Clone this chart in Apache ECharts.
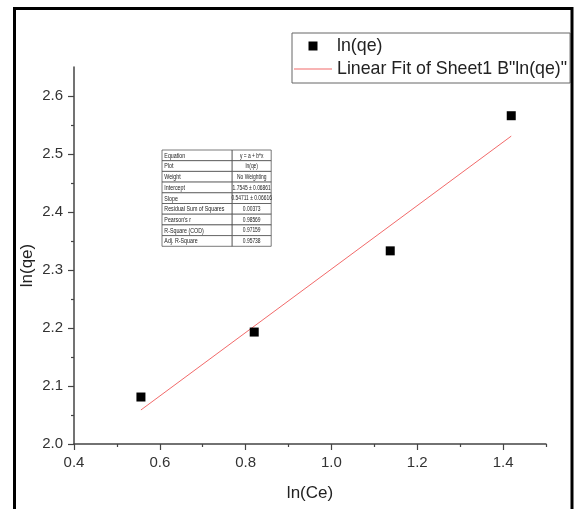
<!DOCTYPE html>
<html>
<head>
<meta charset="utf-8">
<script src="https://cdn.jsdelivr.net/npm/echarts@6/dist/echarts.min.js"></script>
<style>
  html, body { margin: 0; padding: 0; background: #fff; }
  #chart { width: 575px; height: 509px; }
</style>
</head>
<body>
<div id="chart"></div>
<script>
// Measured points: ln(Ce) vs ln(qe)
const lnCe = [0.556, 0.820, 1.137, 1.419];
const lnQe = [2.081, 2.193, 2.333, 2.566];

// Linear fit y = a + b*x
const fitIntercept = 1.7545;
const fitSlope = 0.54711;

// Axis ticks
const xMajorTicks = [0.4, 0.6, 0.8, 1.0, 1.2, 1.4];
const xMinorTicks = [0.5, 0.7, 0.9, 1.1, 1.3, 1.5];
const yMajorTicks = [2.0, 2.1, 2.2, 2.3, 2.4, 2.5, 2.6];
const yMinorTicks = [2.05, 2.15, 2.25, 2.35, 2.45, 2.55];

// Fit statistics table
const statNames = ['Equation', 'Plot', 'Weight', 'Intercept', 'Slope',
  'Residual Sum of Squares', "Pearson's r", 'R-Square (COD)', 'Adj. R-Square'];
const statValues = ['y = a + b*x', 'ln(qe)', 'No Weighting', '1.7545 \u00b1 0.06861',
  '0.54711 \u00b1 0.06616', '0.00373', '0.98569', '0.97159', '0.95738'];

const FONT = 'Liberation Sans, Arial, sans-serif';
const AXIS_COLOR = '#444';
const FIT_COLOR = '#f26a6a';

// Legend icons inside a 38x9 box: a centred square, and a thin horizontal stroke
const ICON_SQUARE = 'path://M0,0 M38,9 M14.5,0 L23.5,0 L23.5,9 L14.5,9 Z';
const ICON_LINE = 'path://M0,0 M38,9 M0,4 L38,4 L38,5 L0,5 Z';

const fitStart = Math.min(...lnCe);
const fitEnd = Math.max(...lnCe);
const fitLine = [
  [fitStart, fitIntercept + fitSlope * fitStart],
  [fitEnd, fitIntercept + fitSlope * fitEnd]
];

// Statistics table: laid out at natural width, then squeezed horizontally
const tbl = { left: 162, top: 150, col1: 90, col2: 50, row: 10.7, font: 6.8, valueFont: 6.3, squeeze: 0.78 };
const tableChildren = [];
statNames.forEach((name, i) => {
  const y = i * tbl.row;
  tableChildren.push({
    type: 'rect', shape: { x: 0, y: y, width: tbl.col1, height: tbl.row },
    style: { fill: '#fff', stroke: '#444', lineWidth: 0.8 }
  });
  tableChildren.push({
    type: 'rect', shape: { x: tbl.col1, y: y, width: tbl.col2, height: tbl.row },
    style: { fill: '#fff', stroke: '#444', lineWidth: 0.8 }
  });
  tableChildren.push({
    type: 'text', x: 3, y: y + tbl.row / 2 + 0.5,
    style: { text: name, fontSize: tbl.font, fontFamily: FONT, fill: '#222', verticalAlign: 'middle', align: 'left' }
  });
  tableChildren.push({
    type: 'text', x: tbl.col1 + tbl.col2 / 2, y: y + tbl.row / 2 + 0.5,
    style: { text: statValues[i], fontSize: tbl.valueFont, fontFamily: FONT, fill: '#222', verticalAlign: 'middle', align: 'center' }
  });
});

const chart = echarts.init(document.getElementById('chart'), null, { renderer: 'canvas' });

const baseX = {
  type: 'value', min: 0.4, max: 1.5, interval: 0.1,
  splitLine: { show: false }, minorTick: { show: false }
};
const baseY = {
  type: 'value', min: 2.0, max: 2.65, interval: 0.05,
  splitLine: { show: false }, minorTick: { show: false }
};

chart.setOption({
  animation: false,
  backgroundColor: '#fff',
  textStyle: { fontFamily: FONT },
  grid: { left: 74, top: 67, right: 29, bottom: 65, containLabel: false },
  xAxis: [
    Object.assign({}, baseX, {
      name: 'ln(Ce)', nameLocation: 'middle', nameGap: 41, nameMoveOverlap: false,
      nameTextStyle: { fontSize: 17, color: '#222', fontFamily: FONT },
      axisLine: { show: true, onZero: false, lineStyle: { color: AXIS_COLOR, width: 1.5 } },
      axisTick: { show: true, length: 6, customValues: xMajorTicks, lineStyle: { color: AXIS_COLOR, width: 1.2 } },
      axisLabel: { customValues: xMajorTicks, margin: 11, fontSize: 15, color: '#333', fontFamily: FONT,
        formatter: v => v.toFixed(1) }
    }),
    Object.assign({}, baseX, {
      position: 'bottom',
      axisLine: { show: false },
      axisTick: { show: true, length: 3, customValues: xMinorTicks, lineStyle: { color: AXIS_COLOR, width: 1.2 } },
      axisLabel: { show: false }
    })
  ],
  yAxis: [
    Object.assign({}, baseY, {
      name: 'ln(qe)', nameLocation: 'middle', nameGap: 38, nameRotate: 90, nameMoveOverlap: false,
      nameTextStyle: { fontSize: 17, color: '#222', fontFamily: FONT, padding: [0, 20, 0, 0] },
      axisLine: { show: true, onZero: false, lineStyle: { color: AXIS_COLOR, width: 1.5 } },
      axisTick: { show: true, length: 6, customValues: yMajorTicks, lineStyle: { color: AXIS_COLOR, width: 1.2 } },
      axisLabel: { customValues: yMajorTicks, margin: 11, fontSize: 15, color: '#333', fontFamily: FONT,
        formatter: v => v.toFixed(1) }
    }),
    Object.assign({}, baseY, {
      position: 'left',
      axisLine: { show: false },
      axisTick: { show: true, length: 3, customValues: yMinorTicks, lineStyle: { color: AXIS_COLOR, width: 1.2 } },
      axisLabel: { show: false }
    })
  ],
  legend: {
    orient: 'vertical', left: 292, top: 33,
    padding: [4, 3, 5, 2], itemGap: 5, itemWidth: 38, itemHeight: 9,
    borderColor: '#666', borderWidth: 1, backgroundColor: '#fff',
    textStyle: { fontSize: 17.8, color: '#222', fontFamily: FONT, lineHeight: 17 },
    data: [
      { name: 'ln(qe)', icon: ICON_SQUARE },
      { name: 'Linear Fit of Sheet1 B"ln(qe)"', icon: ICON_LINE }
    ]
  },
  series: [
    {
      name: 'ln(qe)', type: 'scatter', xAxisIndex: 0, yAxisIndex: 0,
      symbol: 'rect', symbolSize: 9,
      itemStyle: { color: '#000', opacity: 1 },
      data: lnCe.map((x, i) => [x, lnQe[i]]),
      z: 3
    },
    {
      name: 'Linear Fit of Sheet1 B"ln(qe)"', type: 'line', xAxisIndex: 0, yAxisIndex: 0,
      showSymbol: false, symbol: 'none',
      lineStyle: { color: FIT_COLOR, width: 1 },
      itemStyle: { color: FIT_COLOR },
      data: fitLine,
      z: 2
    }
  ],
  graphic: [
    {
      type: 'rect', shape: { x: 14.5, y: 8.5, width: 557.5, height: 520 },
      style: { fill: 'none', stroke: '#000', lineWidth: 3 }, z: 10, silent: true
    },
    {
      type: 'group', x: tbl.left, y: tbl.top, scaleX: tbl.squeeze, z: 5, children: tableChildren
    }
  ]
});
</script>
</body>
</html>
